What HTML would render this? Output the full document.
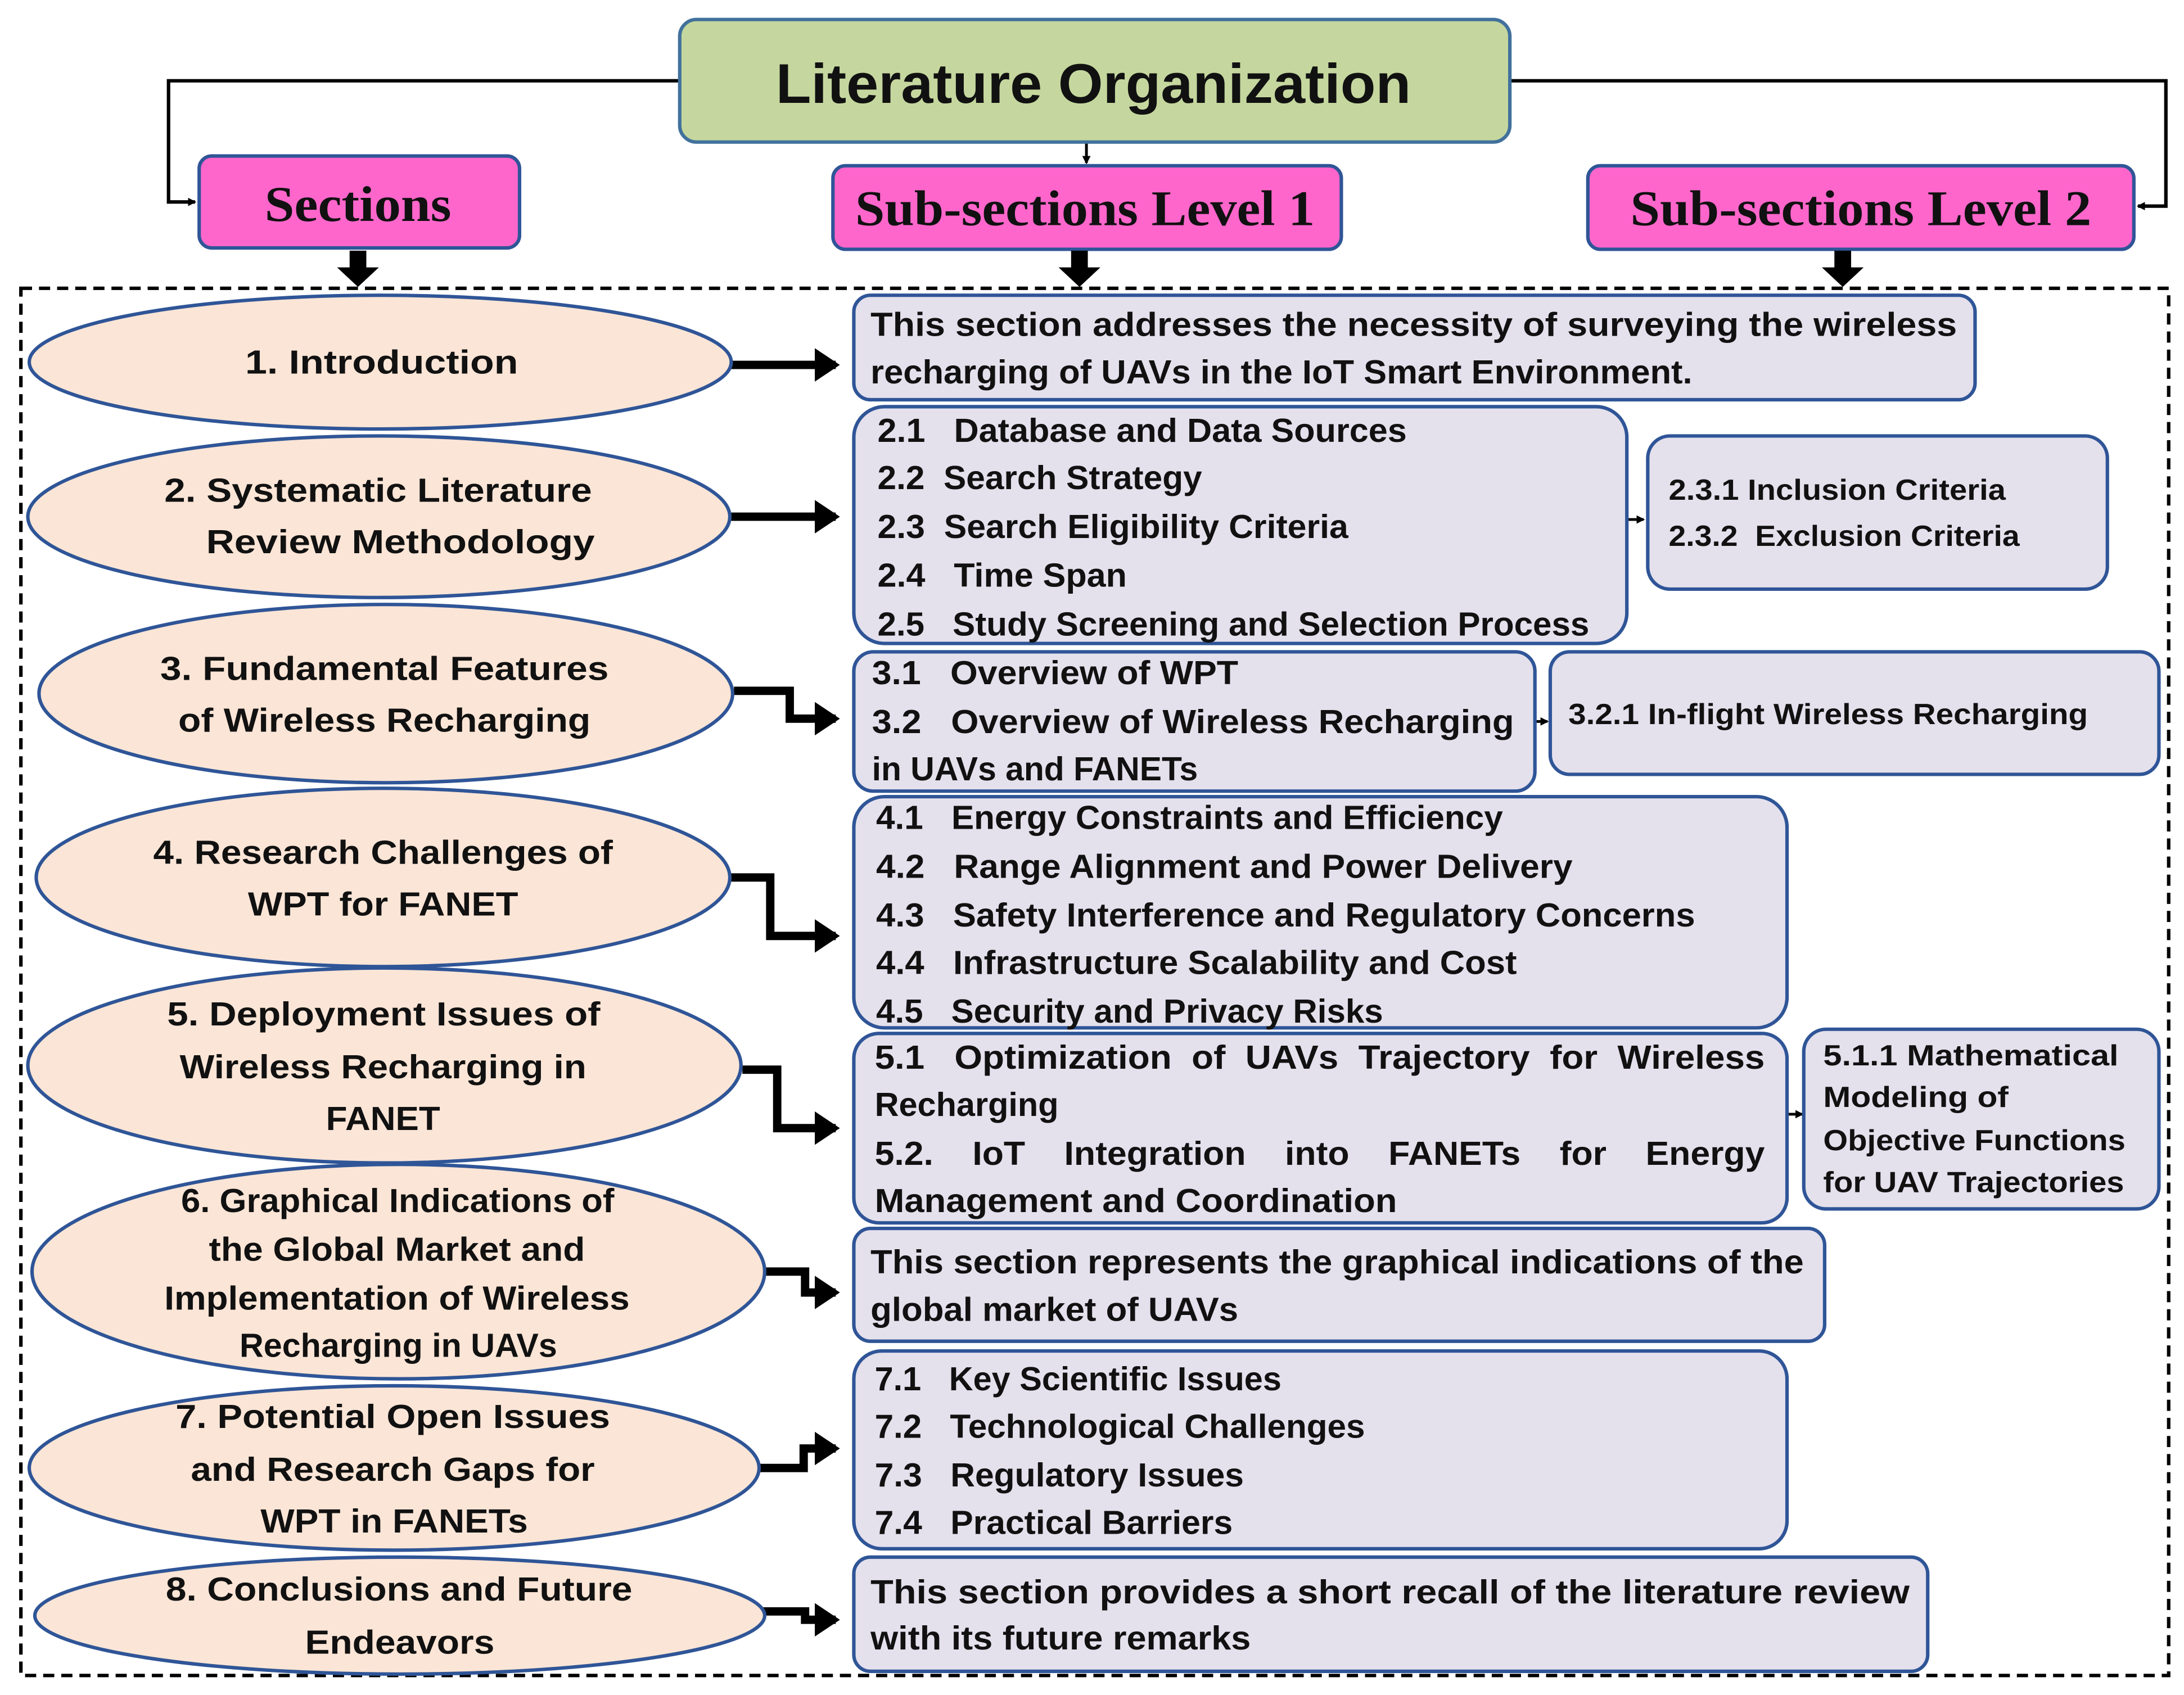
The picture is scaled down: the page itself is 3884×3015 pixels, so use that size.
<!DOCTYPE html>
<html><head><meta charset="utf-8"><style>html,body{margin:0;padding:0;background:#fff}svg{display:block}</style></head>
<body>
<svg width="3884" height="3015" viewBox="0 0 1568 1217" preserveAspectRatio="none" xmlns="http://www.w3.org/2000/svg" xml:space="preserve">
<defs>
<marker id="ah" markerWidth="6" markerHeight="6" refX="5" refY="3" orient="auto" markerUnits="userSpaceOnUse"><path d="M0,0 L6,3 L0,6 z" fill="#000"/></marker>
<marker id="bh" markerWidth="3" markerHeight="4" refX="2.5" refY="2" orient="auto"><path d="M0,0 L3,2 L0,4 z" fill="#000"/></marker>
</defs>
<style>
.b{fill:#e4e0ec;stroke:#2f5597;stroke-width:2.5}
.e{fill:#fbe5d6;stroke:#2f5597;stroke-width:2.5}
.p{fill:#ff66cc;stroke:#2f5597;stroke-width:2.5}
text{font-family:"Liberation Sans",sans-serif;font-weight:bold;fill:#111;dominant-baseline:central;white-space:pre}
.t{font-size:24px}
.s{font-size:21px}
.c{stroke:#000;stroke-width:6;fill:none}
</style>
<path d="M488,58 H121 V145 H140" fill="none" stroke="#000" stroke-width="2.5" marker-end="url(#ah)"/>
<path d="M1084,58 H1555 V148 H1535" fill="none" stroke="#000" stroke-width="2.5" marker-end="url(#ah)"/>
<path d="M780,102 V117" fill="none" stroke="#000" stroke-width="2" marker-end="url(#ah)"/>
<rect x="488" y="14" width="596" height="88" rx="12" fill="#c5d79e" stroke="#41719c" stroke-width="2.5"/>
<text x="785" y="60" text-anchor="middle" font-size="40" textLength="456" lengthAdjust="spacingAndGlyphs">Literature Organization</text>
<rect class="p" x="143" y="112" width="230" height="66" rx="9"/>
<rect class="p" x="598" y="119" width="365" height="60" rx="9"/>
<rect class="p" x="1140" y="119" width="392" height="60" rx="9"/>
<text x="257" y="147" text-anchor="middle" font-size="36" style="font-family:'Liberation Serif',serif" textLength="134" lengthAdjust="spacingAndGlyphs">Sections</text>
<text x="779" y="150" text-anchor="middle" font-size="36" style="font-family:'Liberation Serif',serif" textLength="330" lengthAdjust="spacingAndGlyphs">Sub-sections Level 1</text>
<text x="1336" y="150" text-anchor="middle" font-size="36" style="font-family:'Liberation Serif',serif" textLength="331" lengthAdjust="spacingAndGlyphs">Sub-sections Level 2</text>
<g fill="#000">
<path d="M251,180 h12 v12 h9 l-15,14 l-15,-14 h9 z"/>
<path d="M769,180 h12 v12 h9 l-15,14 l-15,-14 h9 z"/>
<path d="M1317,180 h12 v12 h9 l-15,14 l-15,-14 h9 z"/>
</g>
<rect x="15" y="207" width="1542" height="996" fill="none" stroke="#000" stroke-width="2.5" stroke-dasharray="8,5"/>
<g class="c">
<path d="M525,262 H600" marker-end="url(#bh)"/>
<path d="M525,371 H600" marker-end="url(#bh)"/>
<path d="M527,496 H567 V516 H600" marker-end="url(#bh)"/>
<path d="M524,630 H553 V672 H600" marker-end="url(#bh)"/>
<path d="M533,768 H558 V810 H600" marker-end="url(#bh)"/>
<path d="M550,913 H578 V928 H600" marker-end="url(#bh)"/>
<path d="M545,1054 H577 V1040 H600" marker-end="url(#bh)"/>
<path d="M548,1157 H578 V1163 H600" marker-end="url(#bh)"/>
</g>
<g stroke="#000" stroke-width="2" fill="none">
<path d="M1168,373 H1180" marker-end="url(#ah)"/>
<path d="M1102,518 H1111" marker-end="url(#ah)"/>
<path d="M1283,800 H1294" marker-end="url(#ah)"/>
</g>
<ellipse class="e" cx="273" cy="260" rx="252" ry="48"/>
<ellipse class="e" cx="272" cy="371" rx="252" ry="58"/>
<ellipse class="e" cx="277" cy="498" rx="249" ry="64"/>
<ellipse class="e" cx="275" cy="630" rx="249" ry="64"/>
<ellipse class="e" cx="276" cy="765" rx="256" ry="70"/>
<ellipse class="e" cx="286" cy="913" rx="263" ry="77"/>
<ellipse class="e" cx="283" cy="1054" rx="262" ry="59"/>
<ellipse class="e" cx="287" cy="1160" rx="262" ry="42"/>
<g class="t">
<text x="176" y="260" textLength="196" lengthAdjust="spacingAndGlyphs">1. Introduction</text>
<text x="118" y="352" textLength="307" lengthAdjust="spacingAndGlyphs">2. Systematic Literature</text>
<text x="148" y="389" textLength="279" lengthAdjust="spacingAndGlyphs">Review Methodology</text>
<text x="115" y="480" textLength="322" lengthAdjust="spacingAndGlyphs">3. Fundamental Features</text>
<text x="128" y="517" textLength="296" lengthAdjust="spacingAndGlyphs">of Wireless Recharging</text>
<text x="110" y="612" textLength="330" lengthAdjust="spacingAndGlyphs">4. Research Challenges of</text>
<text x="178" y="649" textLength="194" lengthAdjust="spacingAndGlyphs">WPT for FANET</text>
<text x="120" y="728" textLength="311" lengthAdjust="spacingAndGlyphs">5. Deployment Issues of</text>
<text x="129" y="766" textLength="292" lengthAdjust="spacingAndGlyphs">Wireless Recharging in</text>
<text x="234" y="803" textLength="82" lengthAdjust="spacingAndGlyphs">FANET</text>
<text x="130" y="862" textLength="311" lengthAdjust="spacingAndGlyphs">6. Graphical Indications of</text>
<text x="150" y="897" textLength="270" lengthAdjust="spacingAndGlyphs">the Global Market and</text>
<text x="118" y="932" textLength="334" lengthAdjust="spacingAndGlyphs">Implementation of Wireless</text>
<text x="172" y="966" textLength="228" lengthAdjust="spacingAndGlyphs">Recharging in UAVs</text>
<text x="126" y="1017" textLength="312" lengthAdjust="spacingAndGlyphs">7. Potential Open Issues</text>
<text x="137" y="1055" textLength="290" lengthAdjust="spacingAndGlyphs">and Research Gaps for</text>
<text x="187" y="1092" textLength="192" lengthAdjust="spacingAndGlyphs">WPT in FANETs</text>
<text x="119" y="1141" textLength="335" lengthAdjust="spacingAndGlyphs">8. Conclusions and Future</text>
<text x="219" y="1179" textLength="136" lengthAdjust="spacingAndGlyphs">Endeavors</text>
</g>
<rect class="b" x="613" y="212" width="805" height="75" rx="12"/>
<rect class="b" x="613" y="292" width="555" height="170" rx="22"/>
<rect class="b" x="1183" y="313" width="330" height="110" rx="16"/>
<rect class="b" x="613" y="468" width="489" height="100" rx="14"/>
<rect class="b" x="1113" y="468" width="437" height="88" rx="14"/>
<rect class="b" x="613" y="572" width="670" height="166" rx="22"/>
<rect class="b" x="613" y="742" width="670" height="136" rx="18"/>
<rect class="b" x="1295" y="739" width="255" height="129" rx="16"/>
<rect class="b" x="613" y="882" width="697" height="81" rx="12"/>
<rect class="b" x="613" y="970" width="670" height="142" rx="20"/>
<rect class="b" x="613" y="1118" width="771" height="82" rx="12"/>
<g class="t">
<text x="625" y="233" textLength="780" lengthAdjust="spacingAndGlyphs">This section addresses the necessity of surveying the wireless</text>
<text x="625" y="267" textLength="590" lengthAdjust="spacingAndGlyphs">recharging of UAVs in the IoT Smart Environment.</text>
<text x="630" y="309" textLength="380" lengthAdjust="spacingAndGlyphs">2.1   Database and Data Sources</text>
<text x="630" y="343" textLength="233" lengthAdjust="spacingAndGlyphs">2.2  Search Strategy</text>
<text x="630" y="378" textLength="338" lengthAdjust="spacingAndGlyphs">2.3  Search Eligibility Criteria</text>
<text x="630" y="413" textLength="179" lengthAdjust="spacingAndGlyphs">2.4   Time Span</text>
<text x="630" y="448" textLength="511" lengthAdjust="spacingAndGlyphs">2.5   Study Screening and Selection Process</text>
<text x="626" y="483" textLength="263" lengthAdjust="spacingAndGlyphs">3.1   Overview of WPT</text>
<text x="626" y="518" textLength="461" lengthAdjust="spacingAndGlyphs">3.2   Overview of Wireless Recharging</text>
<text x="626" y="552" textLength="234" lengthAdjust="spacingAndGlyphs">in UAVs and FANETs</text>
<text x="629" y="587" textLength="450" lengthAdjust="spacingAndGlyphs">4.1   Energy Constraints and Efficiency</text>
<text x="629" y="622" textLength="500" lengthAdjust="spacingAndGlyphs">4.2   Range Alignment and Power Delivery</text>
<text x="629" y="657" textLength="588" lengthAdjust="spacingAndGlyphs">4.3   Safety Interference and Regulatory Concerns</text>
<text x="629" y="691" textLength="460" lengthAdjust="spacingAndGlyphs">4.4   Infrastructure Scalability and Cost</text>
<text x="629" y="726" textLength="364" lengthAdjust="spacingAndGlyphs">4.5   Security and Privacy Risks</text>
<text x="628" y="759" textLength="639" lengthAdjust="spacingAndGlyphs">5.1   Optimization  of  UAVs  Trajectory  for  Wireless</text>
<text x="628" y="793" textLength="132" lengthAdjust="spacingAndGlyphs">Recharging</text>
<text x="628" y="828" textLength="639" lengthAdjust="spacingAndGlyphs">5.2.    IoT    Integration    into    FANETs    for    Energy</text>
<text x="628" y="862" textLength="375" lengthAdjust="spacingAndGlyphs">Management and Coordination</text>
<text x="625" y="906" textLength="670" lengthAdjust="spacingAndGlyphs">This section represents the graphical indications of the</text>
<text x="625" y="940" textLength="264" lengthAdjust="spacingAndGlyphs">global market of UAVs</text>
<text x="628" y="990" textLength="292" lengthAdjust="spacingAndGlyphs">7.1   Key Scientific Issues</text>
<text x="628" y="1024" textLength="352" lengthAdjust="spacingAndGlyphs">7.2   Technological Challenges</text>
<text x="628" y="1059" textLength="265" lengthAdjust="spacingAndGlyphs">7.3   Regulatory Issues</text>
<text x="628" y="1093" textLength="257" lengthAdjust="spacingAndGlyphs">7.4   Practical Barriers</text>
<text x="625" y="1143" textLength="746" lengthAdjust="spacingAndGlyphs">This section provides a short recall of the literature review</text>
<text x="625" y="1176" textLength="273" lengthAdjust="spacingAndGlyphs">with its future remarks</text>
</g>
<g class="s">
<text x="1198" y="352" textLength="242" lengthAdjust="spacingAndGlyphs">2.3.1 Inclusion Criteria</text>
<text x="1198" y="385" textLength="252" lengthAdjust="spacingAndGlyphs">2.3.2  Exclusion Criteria</text>
<text x="1126" y="513" textLength="373" lengthAdjust="spacingAndGlyphs">3.2.1 In-flight Wireless Recharging</text>
<text x="1309" y="758" textLength="212" lengthAdjust="spacingAndGlyphs">5.1.1 Mathematical</text>
<text x="1309" y="788" textLength="133" lengthAdjust="spacingAndGlyphs">Modeling of</text>
<text x="1309" y="819" textLength="217" lengthAdjust="spacingAndGlyphs">Objective Functions</text>
<text x="1309" y="849" textLength="216" lengthAdjust="spacingAndGlyphs">for UAV Trajectories</text>
</g>
</svg>
</body></html>
